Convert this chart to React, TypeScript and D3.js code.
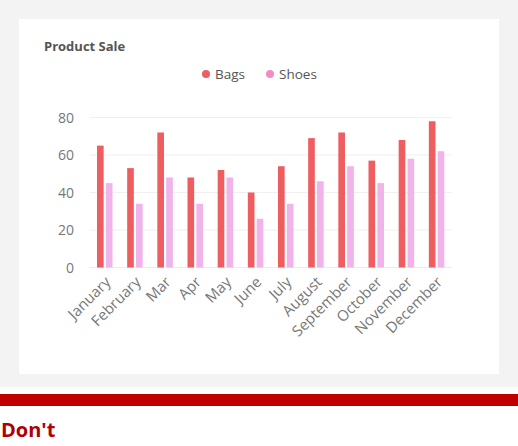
import React, { useEffect, useRef } from "react";
import * as d3 from "d3";

const months = [
  "January", "February", "Mar", "Apr", "May", "June",
  "July", "August", "September", "October", "November", "December",
];
const bags = [65, 53, 72, 48, 52, 40, 54, 69, 72, 57, 68, 78];
const shoes = [45, 34, 48, 34, 48, 26, 34, 46, 54, 45, 58, 62];
const yTicks = [0, 20, 40, 60, 80];
const seriesNames = ["Bags", "Shoes"];
const barColors = ["#ee5d60", "#f0b3ea"];
const legendColors = ["#ee5d60", "#f48cc4"];

const W = 518;
const H = 446;

export default function App() {
  const svgRef = useRef<SVGSVGElement>(null);

  useEffect(() => {
    if (!svgRef.current) return;
    const svg = d3.select(svgRef.current);
    svg.selectAll("*").remove();
    const font = "'Open Sans', 'Noto Sans', sans-serif";

    // page background + card
    svg.append("rect").attr("width", W).attr("height", H).attr("fill", "#fff");
    svg.append("rect").attr("width", W).attr("height", 387).attr("fill", "#f3f3f3");
    svg.append("rect").attr("x", 19).attr("y", 19).attr("width", 480).attr("height", 355).attr("fill", "#fff");

    svg.append("text")
      .attr("x", 44).attr("y", 51)
      .text("Product Sale")
      .attr("font-family", font).attr("font-size", 13).attr("font-weight", 700)
      .attr("fill", "#555");

    // legend
    const legendX = [206, 270];
    seriesNames.forEach((name, i) => {
      svg.append("circle").attr("cx", legendX[i]).attr("cy", 74).attr("r", 4).attr("fill", legendColors[i]);
      svg.append("text")
        .attr("x", legendX[i] + 9).attr("y", 79)
        .text(name)
        .attr("font-family", font).attr("font-size", 13.5)
        .attr("fill", "#555");
    });

    const x = d3.scaleBand<string>().domain(months).range([89.5, 451.5]);
    const y = d3.scaleLinear().domain([0, 80]).range([267.5, 117.5]);
    const inner = d3.scaleBand<number>().domain([0, 1]).range([7.5, 23]).paddingInner(0.25);

    // grid + y ticks
    yTicks.forEach((t) => {
      svg.append("line")
        .attr("x1", x.range()[0]).attr("x2", x.range()[1])
        .attr("y1", y(t)).attr("y2", y(t))
        .attr("stroke", t === 0 ? "#ececec" : "#f0f0f0").attr("stroke-width", 1.2);
      svg.append("text")
        .attr("x", 74).attr("y", y(t) + 5)
        .attr("text-anchor", "end")
        .text(t)
        .attr("font-family", font).attr("font-size", 14)
        .attr("fill", "#777");
    });

    // bars
    [bags, shoes].forEach((vals, s) => {
      svg.append("g").selectAll("rect")
        .data(vals)
        .join("rect")
        .attr("x", (_, i) => (x(months[i]) ?? 0) + (inner(s) ?? 0))
        .attr("y", (d) => y(d))
        .attr("width", inner.bandwidth())
        .attr("height", (d) => y(0) - y(d))
        .attr("fill", barColors[s]);
    });

    // x labels
    months.forEach((m) => {
      const cx = (x(m) ?? 0) + x.bandwidth() / 2;
      svg.append("text")
        .attr("transform", `translate(${cx + 7},${283}) rotate(-45)`)
        .attr("text-anchor", "end")
        .text(m)
        .attr("font-family", font).attr("font-size", 15)
        .attr("fill", "#777");
    });

    // bottom banner
    svg.append("rect").attr("x", 0).attr("y", 394).attr("width", W).attr("height", 12).attr("fill", "#c00000");
    svg.append("text")
      .attr("x", 1).attr("y", 437)
      .text("Don't")
      .attr("font-family", font).attr("font-size", 20).attr("font-weight", 700)
      .attr("fill", "#b00000");
  }, []);

  return (
    <div style={{ position: "absolute", left: 0, top: 0 }}>
      <svg ref={svgRef} width={W} height={H} style={{ display: "block" }} />
    </div>
  );
}
